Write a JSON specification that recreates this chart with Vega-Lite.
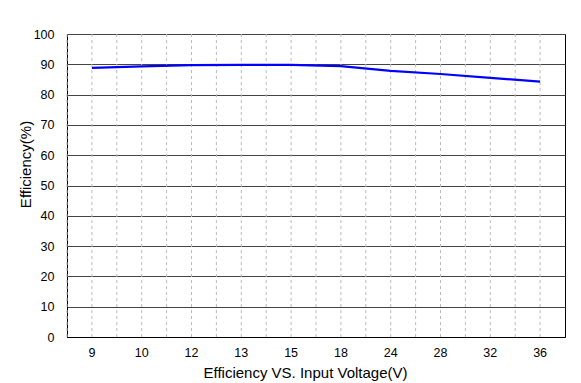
{
  "$schema": "https://vega.github.io/schema/vega-lite/v6.json",
  "autosize": {"type": "none"},
  "width": 498,
  "height": 303,
  "padding": {"left": 67, "top": 34, "right": 16, "bottom": 46},
  "background": "white",
  "config": {
    "font": "Liberation Sans",
    "view": {"stroke": "black", "strokeWidth": 1}
  },
  "data": {
    "values": [
      {"v": "9", "eff": 88.8},
      {"v": "10", "eff": 89.3},
      {"v": "12", "eff": 89.7},
      {"v": "13", "eff": 89.8},
      {"v": "15", "eff": 89.8},
      {"v": "18", "eff": 89.4},
      {"v": "24", "eff": 87.8},
      {"v": "28", "eff": 86.8},
      {"v": "32", "eff": 85.5},
      {"v": "36", "eff": 84.3}
    ]
  },
  "encoding": {
    "x": {
      "field": "v",
      "type": "ordinal",
      "sort": null,
      "scale": {"type": "band", "paddingInner": 0, "paddingOuter": 0},
      "axis": {
        "title": "Efficiency VS. Input Voltage(V)",
        "titleFontSize": 15,
        "titleFontWeight": "normal",
        "titleColor": "black",
        "titleX": 238,
        "titleY": 35,
        "titleAlign": "center",
        "titleBaseline": "middle",
        "labelAngle": 0,
        "labelFontSize": 12.5,
        "labelColor": "black",
        "labelPadding": 9,
        "ticks": false,
        "grid": false,
        "domainColor": "black"
      }
    }
  },
  "layer": [
    {
      "mark": {"type": "rule", "stroke": "#bbbbbb", "strokeDash": [3, 3], "strokeWidth": 1},
      "encoding": {"x": {"field": "v", "type": "ordinal", "sort": null, "bandPosition": 0}}
    },
    {
      "mark": {"type": "rule", "stroke": "#bbbbbb", "strokeDash": [3, 3], "strokeWidth": 1},
      "encoding": {"x": {"field": "v", "type": "ordinal", "sort": null, "bandPosition": 0.5}}
    },
    {
      "mark": {"type": "line", "stroke": "#0000FF", "strokeWidth": 2.2},
      "encoding": {
        "y": {
          "field": "eff",
          "type": "quantitative",
          "scale": {"domain": [0, 100], "nice": false, "zero": true},
          "axis": {
            "title": "Efficiency(%)",
            "titleFontSize": 15,
            "titleFontWeight": "normal",
            "titleColor": "black",
            "titleX": -42,
            "titleY": 130,
            "titleAngle": -90,
            "titleAlign": "center",
            "titleBaseline": "middle",
            "values": [0, 10, 20, 30, 40, 50, 60, 70, 80, 90, 100],
            "labelFontSize": 12.5,
            "labelColor": "black",
            "labelPadding": 13,
            "ticks": false,
            "grid": true,
            "gridColor": "#444444",
            "gridWidth": 1,
            "domainColor": "black"
          }
        }
      }
    }
  ]
}
